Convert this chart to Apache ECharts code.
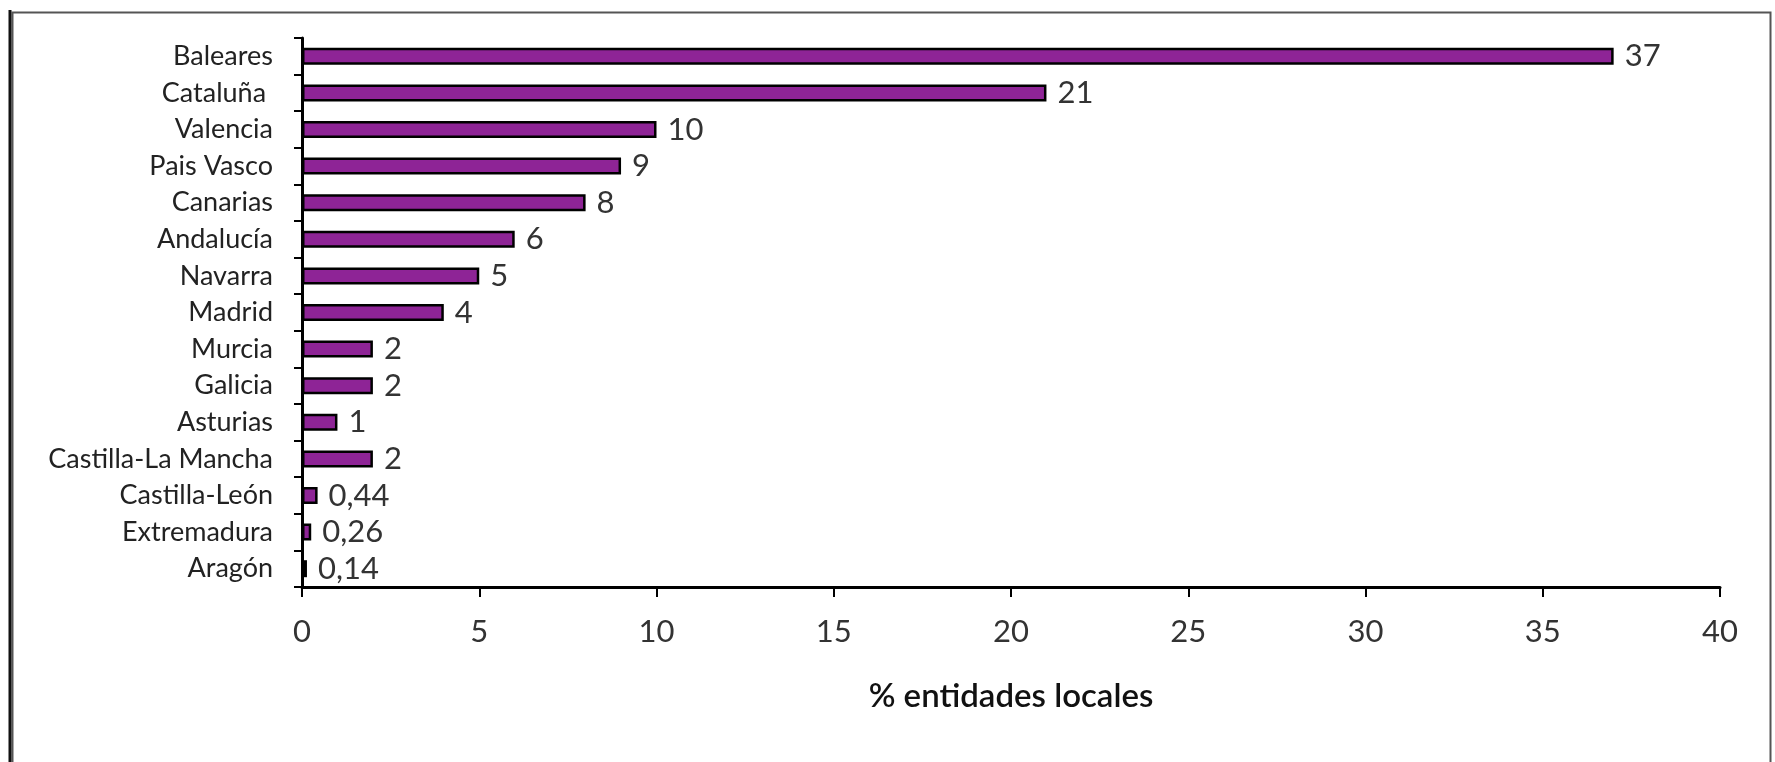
<!DOCTYPE html>
<html>
<head>
<meta charset="utf-8">
<script src="https://cdn.jsdelivr.net/npm/echarts@6/dist/echarts.min.js"></script>
<style>
html,body{margin:0;padding:0;background:#fff;}
#chart{width:1775px;height:762px;}
</style>
</head>
<body>
<div id="chart"></div>
<script>
var categories = ["Baleares","Cataluña ","Valencia","Pais Vasco","Canarias","Andalucía","Navarra","Madrid","Murcia","Galicia","Asturias","Castilla-La Mancha","Castilla-León","Extremadura","Aragón"];
var values = [37, 21, 10, 9, 8, 6, 5, 4, 2, 2, 1, 2, 0.44, 0.26, 0.14];
var xTicks = [0, 5, 10, 15, 20, 25, 30, 35, 40];
var axisTitle = "% entidades locales";

var chart = echarts.init(document.getElementById('chart'));
var FONT = 'Lato';
chart.setOption({
  animation: false,
  backgroundColor: '#ffffff',
  graphic: [{
    type: 'rect',
    left: 10, top: 10,
    shape: {x: 0, y: 0, width: 1758, height: 800},
    style: {fill: 'none', stroke: '#555', lineWidth: 2}
  }, {
    type: 'line',
    shape: {x1: 10, y1: 10, x2: 10, y2: 762},
    style: {stroke: '#111', lineWidth: 3}
  }],
  grid: {left: 302, right: 55, top: 38, bottom: 175, containLabel: false},
  xAxis: {
    type: 'value',
    min: xTicks[0], max: xTicks[xTicks.length - 1], interval: 5,
    name: axisTitle,
    nameLocation: 'middle',
    nameGap: 93,
    nameTextStyle: {fontFamily: FONT, fontSize: 33, fontWeight: 600, color: '#111'},
    axisLine: {show: true, lineStyle: {color: '#000', width: 3}},
    axisTick: {show: true, length: 10, lineStyle: {color: '#000', width: 2}},
    axisLabel: {fontFamily: FONT, fontSize: 31, color: '#333', margin: 29},
    splitLine: {show: false}
  },
  yAxis: {
    type: 'category',
    data: categories,
    inverse: true,
    axisLine: {show: true, lineStyle: {color: '#000', width: 3}},
    axisTick: {show: true, length: 8, lineStyle: {color: '#000', width: 2}},
    axisLabel: {fontFamily: FONT, fontSize: 27, color: '#222', margin: 29}
  },
  series: [{
    type: 'bar',
    data: values,
    barWidth: 17,
    itemStyle: {color: '#8E2496', borderColor: '#000', borderWidth: 2.5},
    label: {
      show: true,
      position: 'right',
      distance: 11,
      fontFamily: FONT,
      fontSize: 31,
      color: '#333',
      formatter: function (p) { return String(p.value).replace('.', ','); }
    }
  }]
});
</script>
</body>
</html>
